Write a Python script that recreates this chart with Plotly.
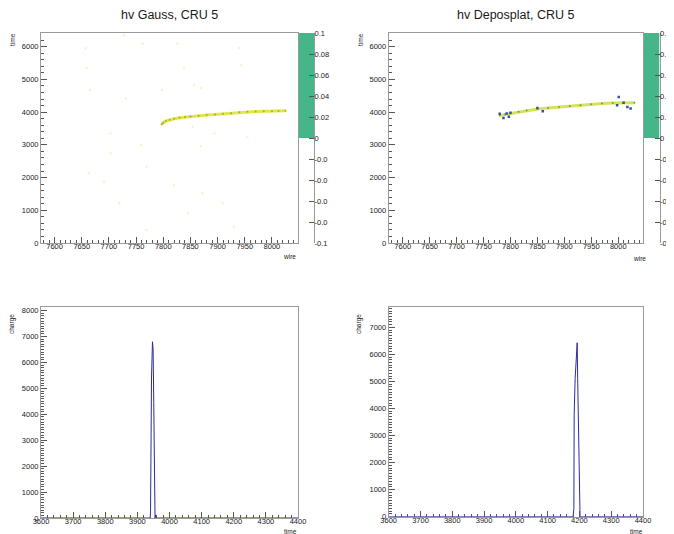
import plotly.graph_objects as go

W, H = 674, 534
OFF = 8  # page body margin offset of the rendered figure

# ---------------- data ----------------
# top-left: hv Gauss, CRU 5 (wire vs time)
wire_gauss = [7797, 7800, 7805, 7812, 7820, 7830, 7840, 7850, 7865, 7880, 7895,
              7910, 7925, 7940, 7955, 7970, 7985, 8000, 8012, 8025]
time_gauss = [3630, 3680, 3730, 3770, 3800, 3830, 3850, 3870, 3890, 3910, 3930,
              3950, 3970, 3995, 4010, 4020, 4025, 4030, 4035, 4040]
# faint noise hits
wire_noise = [7657, 7659, 7728, 7762, 7826, 7940, 7943, 7838, 7665, 7731, 7798, 7857,
              7869, 7703, 7759, 7854, 7894, 7955, 7869, 7663, 7691, 7769, 7820, 7872,
              7909, 7930, 7769, 7719, 7845, 7703]
time_noise = [5950, 5340, 6350, 6100, 6100, 5950, 5440, 5340, 4675, 4420, 4675, 4830,
              4730, 3350, 2995, 3555, 3350, 3250, 2955, 2130, 1875, 2330, 1770, 1520,
              1213, 500, 400, 1213, 908, 2740]

# top-right: hv Deposplat, CRU 5
wire_depo = [7780, 7790, 7800, 7815, 7830, 7850, 7870, 7890, 7910, 7930, 7950,
             7970, 7990, 8010, 8030]
time_depo = [3900, 3930, 3960, 4010, 4050, 4095, 4130, 4160, 4185, 4215, 4240,
             4265, 4280, 4290, 4285]
wire_blue = [7780, 7787, 7793, 7797, 7800, 7850, 7860, 7998, 8001, 8010, 8017, 8023]
time_blue = [3950, 3825, 3960, 3860, 3980, 4125, 4030, 4210, 4460, 4290, 4160, 4110]

# bottom: charge vs time waveforms
t_gauss = [3600, 3940, 3941, 3942, 3944, 3947, 3949, 3951, 3955, 3957, 3959, 4400]
q_gauss = [0, 0, 300, 2900, 5400, 6800, 6500, 4450, 0, 120, 0, 0]
t_depo = [3600, 4180, 4182.5, 4183.5, 4186.5, 4193, 4194.5, 4196, 4202, 4400]
q_depo = [0, 0, 300, 3800, 5100, 6430, 5100, 4000, 0, 0]

# colour-bar axis labels
cbar_vals = [0.1, 0.08, 0.06, 0.04, 0.02, 0, -0.02, -0.04, -0.06, -0.08, -0.1]
cbar_text = ["0.1", "0.08", "0.06", "0.04", "0.02", "0", "-0.0", "-0.0", "-0.0", "-0.0", "-0.1"]

# ---------------- layout helpers ----------------
def px(x):
    return (x - OFF) / W

def py(y):
    return 1 - (y - OFF) / H

FONT = "Liberation Sans, Arial, sans-serif"
TXT = "#1a1a1a"
FRAME = "#9a9a9a"
NAVY = "#2b2b9e"

def axis(domain, rng, dtick, mdtick, anchor, is_x, labelsize=7.5):
    d = dict(
        domain=domain, range=rng, anchor=anchor, dtick=dtick, automargin=False,
        showgrid=False, zeroline=False, showline=True, mirror=True,
        linecolor=FRAME, linewidth=1,
        ticks="inside", ticklen=6, tickcolor="#555", tickwidth=1,
        minor=dict(dtick=mdtick, ticks="inside", ticklen=3, tickcolor="#555", showgrid=False),
        tickfont=dict(family=FONT, size=labelsize, color=TXT),
        fixedrange=True,
    )
    if is_x:
        d["ticklabelstandoff"] = -4
    return d

fig = go.Figure()

# top-left
fig.add_trace(go.Scatter(x=wire_noise, y=time_noise, mode="markers",
                         marker=dict(size=2.5, color="#f3f4d4"), xaxis="x", yaxis="y",
                         hoverinfo="skip", showlegend=False))
fig.add_trace(go.Scatter(x=wire_gauss, y=time_gauss, mode="lines+markers",
                         line=dict(color="#e2e744", width=3),
                         marker=dict(size=2, color="#a3ab40"),
                         xaxis="x", yaxis="y", showlegend=False))
# top-right
fig.add_trace(go.Scatter(x=wire_depo, y=time_depo, mode="lines+markers",
                         line=dict(color="#d6e35a", width=3),
                         marker=dict(size=2, color="#7f9a4a"),
                         xaxis="x2", yaxis="y2", showlegend=False))
fig.add_trace(go.Scatter(x=wire_blue, y=time_blue, mode="markers",
                         marker=dict(size=2.5, symbol="square", color="#3550a8"),
                         xaxis="x2", yaxis="y2", showlegend=False))
# bottom-left
fig.add_trace(go.Scatter(x=t_gauss, y=q_gauss, mode="lines",
                         line=dict(color=NAVY, width=1), xaxis="x3", yaxis="y3",
                         showlegend=False))
# bottom-right
fig.add_trace(go.Scatter(x=t_depo, y=q_depo, mode="lines",
                         line=dict(color=NAVY, width=1), xaxis="x4", yaxis="y4",
                         showlegend=False))
# colour-bar placeholders
for xa, ya in (("x5", "y5"), ("x6", "y6")):
    fig.add_trace(go.Scatter(x=[0.5], y=[0], mode="markers", opacity=0,
                             xaxis=xa, yaxis=ya, hoverinfo="skip", showlegend=False))

top_y = [py(243), py(33)]
bl_y = [py(518), py(307.3)]
br_y = [py(516.7), py(307.3)]
left_x = [px(41), px(298)]
right_x = [px(388.7), px(643)]

def cbar_y(domain, anchor):
    return dict(domain=domain, range=[-0.1, 0.1], anchor=anchor, side="right",
                automargin=False, ticklabelstandoff=-2,
                tickvals=cbar_vals, ticktext=cbar_text, showgrid=False, zeroline=False,
                showline=True, linecolor=FRAME, linewidth=1,
                ticks="inside", ticklen=5, tickcolor="#555",
                tickfont=dict(family=FONT, size=7.5, color=TXT), fixedrange=True)

fig.update_layout(
    width=W, height=H,
    margin=dict(l=0, r=0, t=0, b=0, autoexpand=False),
    paper_bgcolor="white", plot_bgcolor="white",
    showlegend=False,
    xaxis=axis(left_x, [7575, 8048], 50, 10, "y", True),
    yaxis=axis(top_y, [0, 6420], 1000, 200, "x", False),
    xaxis2=axis(right_x, [7574, 8046], 50, 10, "y2", True),
    yaxis2=axis(top_y, [0, 6420], 1000, 200, "x2", False),
    xaxis3=axis(left_x, [3600, 4400], 100, 20, "y3", True),
    yaxis3=axis(bl_y, [0, 8130], 1000, 100, "x3", False),
    xaxis4=axis(right_x, [3600, 4400], 100, 20, "y4", True),
    yaxis4=axis(br_y, [0, 7740], 1000, 100, "x4", False),
    xaxis5=dict(domain=[px(299), px(314)], range=[0, 1], anchor="y5", visible=False,
                fixedrange=True, automargin=False),
    yaxis5=cbar_y(top_y, "x5"),
    xaxis6=dict(domain=[px(644), px(659.5)], range=[0, 1], anchor="y6", visible=False,
                fixedrange=True, automargin=False),
    yaxis6=cbar_y(top_y, "x6"),
)

GREEN = "#45b58a"
for xr, yr in (("x5", "y5"), ("x6", "y6")):
    fig.add_shape(type="rect", xref=xr, yref=yr, x0=0, x1=1, y0=0, y1=0.1,
                  fillcolor=GREEN, line=dict(width=0), layer="below")

# titles
for text, xc in (("hv Gauss, CRU 5", 169), ("hv Deposplat, CRU 5", 515)):
    fig.add_annotation(text=text, x=px(xc), y=py(15), xref="paper", yref="paper",
                       showarrow=False, font=dict(family=FONT, size=12.5, color=TXT),
                       xanchor="center", yanchor="middle")

# axis titles
small = dict(family=FONT, size=6.5, color=TXT)
for text, xc, yc, ang in (
    ("time", 12, 40, -90), ("time", 360, 40, -90),
    ("wire", 289, 257, 0), ("wire", 639, 258, 0),
    ("charge", 12, 324, -90), ("charge", 359, 324, -90),
    ("time", 290, 531, 0), ("time", 636, 531, 0),
):
    fig.add_annotation(text=text, x=px(xc), y=py(yc), xref="paper", yref="paper",
                       showarrow=False, font=small, textangle=ang,
                       xanchor="center", yanchor="middle")

fig.write_html("out.html")
